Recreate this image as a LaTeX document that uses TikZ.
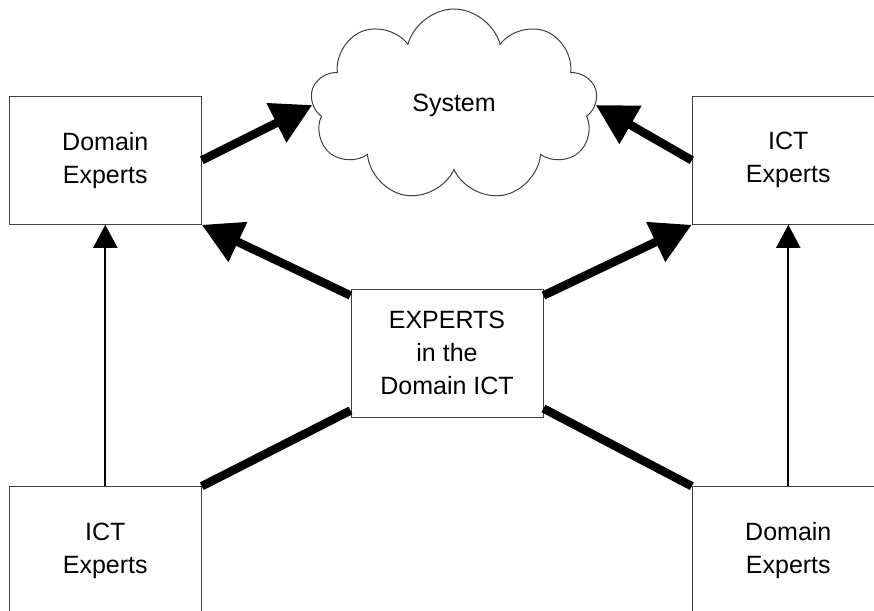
\documentclass[tikz,border=0pt]{standalone}
\usepackage{fontspec}
\setmainfont{Liberation Sans}
\usetikzlibrary{positioning,arrows.meta,shapes.symbols}

\begin{document}
\begin{tikzpicture}[x=1pt,y=-1pt,node distance=1ex,
    every node/.style={font=\fontsize{25}{33}\selectfont},
    box/.style={draw=black!75,line width=1pt,minimum width=192pt,minimum height=128pt,inner sep=0pt,align=center},
    fat/.style={line width=8.5pt,-{Triangle[length=40pt,width=42pt]}},
    fatline/.style={line width=8.5pt},
    thin/.style={line width=2pt,-{Triangle[length=23pt,width=24pt]}}]
\useasboundingbox (0,0) rectangle (874,610);

\node    (mid)    [box] at (447,353)                           {EXPERTS\\in the\\Domain ICT};
\node    (dom1)   [box,above left=63.7pt and 148.7pt of mid]   {Domain\\Experts};
\node    (ict1)   [box,below=261.4pt of dom1]                  {ICT\\Experts};
\node    (ict2)   [box,above right=63.7pt and 148.3pt of mid]  {ICT\\Experts};
\node    (dom2)   [box,below=261.4pt of ict2]                  {Domain\\Experts};
\node    (sys)    [cloud,draw=black!75,line width=1pt,cloud puffs=9,cloud puff arc=150,
                   cloud ignores aspect,minimum width=287pt,minimum height=192pt,inner sep=0pt]
                  at (454,105)                                 {System};

\draw    (dom1.east)    [fat]    -- (sys.west);
\draw    (ict2.west)    [fat]    -- (sys.east);
\draw    ([yshift=-7pt]mid.north west)    [fat]    -- (dom1.south east);
\draw    ([yshift=-7pt]mid.north east)    [fat]    -- (ict2.south west);
\draw    ([yshift=7pt]mid.south west)     [fatline] -- (ict1.north east);
\draw    ([yshift=9pt]mid.south east)     [fatline] -- (dom2.north west);

\draw    (ict1)    [thin]    -- (dom1);
\draw    (dom2)    [thin]    -- (ict2);
\end{tikzpicture}
\end{document}
